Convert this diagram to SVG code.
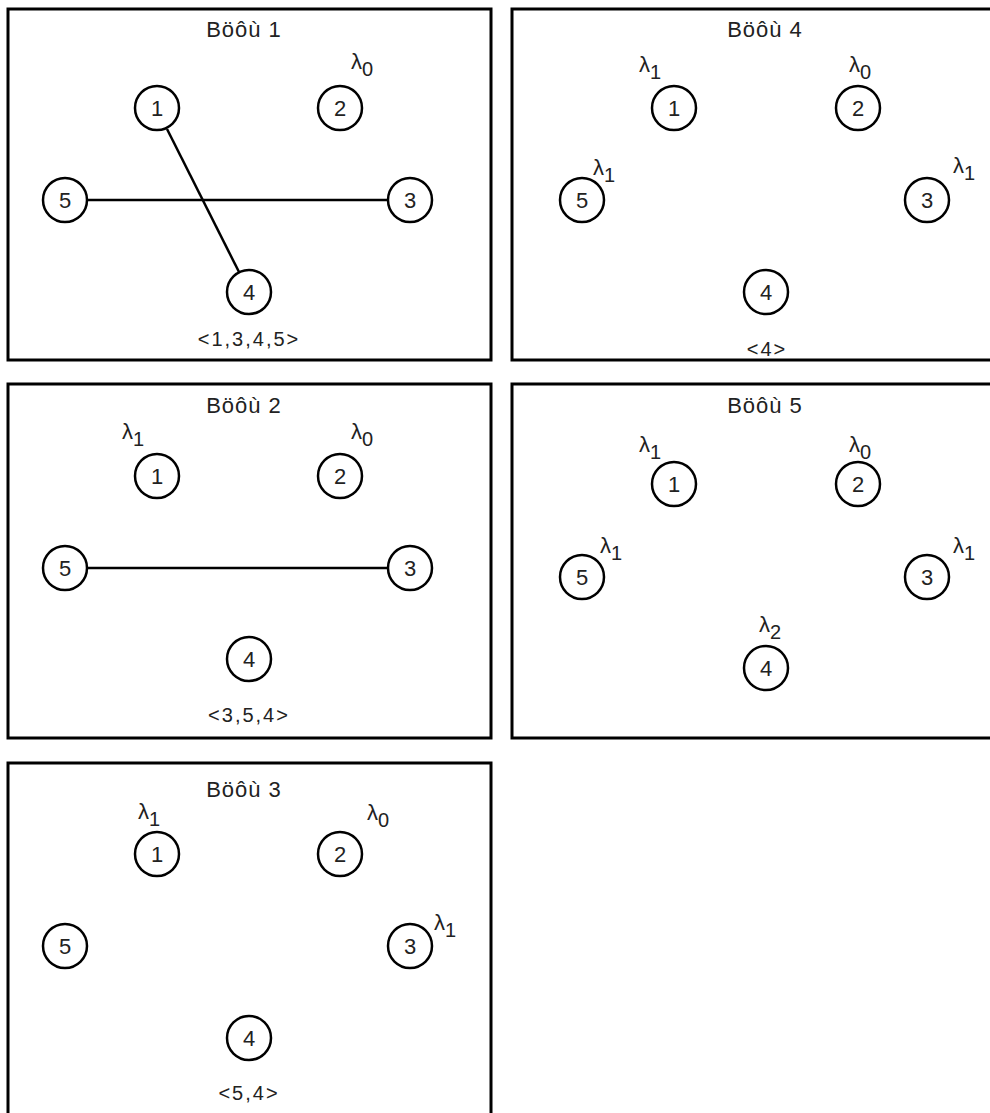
<svg xmlns="http://www.w3.org/2000/svg" width="990" height="1113" viewBox="0 0 990 1113">
<style>
.panel{fill:#fff;stroke:#000;stroke-width:3}
.node circle{fill:#fff;stroke:#000;stroke-width:2.5}
.node text{font-family:"Liberation Sans",Arial,sans-serif;font-size:22px;text-anchor:middle;fill:#222}
.title{font-family:"Liberation Sans",Arial,sans-serif;font-size:22px;text-anchor:middle;letter-spacing:1px;fill:#222}
.seq{font-family:"Liberation Sans",Arial,sans-serif;font-size:20px;text-anchor:middle;letter-spacing:2px;fill:#222}
.lam{font-family:"Liberation Sans",Arial,sans-serif;font-size:22px;fill:#222}
.sub{font-size:20px}
.edge{stroke:#000;stroke-width:2.5;fill:none}
</style>

<!-- Panel 1 -->
<g id="panel1">
<rect class="panel" x="8" y="9" width="483" height="351"/>
<text class="title" x="244" y="37">Böôù 1</text>
<g id="p1-edges">
<line class="edge" x1="167" y1="129" x2="239" y2="272"/>
<line class="edge" x1="87" y1="200" x2="388" y2="200"/>
</g>
<g id="p1-n1" class="node"><circle cx="157" cy="108" r="22"/><text x="157" y="116">1</text></g>
<g id="p1-n2" class="node"><circle cx="340" cy="108" r="22"/><text x="340" y="116">2</text></g>
<g id="p1-n3" class="node"><circle cx="410" cy="200" r="22"/><text x="410" y="208">3</text></g>
<g id="p1-n4" class="node"><circle cx="249" cy="292" r="22"/><text x="249" y="300">4</text></g>
<g id="p1-n5" class="node"><circle cx="65" cy="200" r="22"/><text x="65" y="208">5</text></g>
<text class="lam" x="351" y="69">λ<tspan class="sub" dy="7">0</tspan></text>
<text class="seq" x="249" y="346">&lt;1,3,4,5&gt;</text>
</g>

<!-- Panel 4 -->
<g id="panel4">
<rect class="panel" x="512" y="9" width="490" height="351"/>
<text class="title" x="765" y="37">Böôù 4</text>
<g id="p4-n1" class="node"><circle cx="674" cy="108" r="22"/><text x="674" y="116">1</text></g>
<g id="p4-n2" class="node"><circle cx="858" cy="108" r="22"/><text x="858" y="116">2</text></g>
<g id="p4-n3" class="node"><circle cx="927" cy="200" r="22"/><text x="927" y="208">3</text></g>
<g id="p4-n4" class="node"><circle cx="766" cy="292" r="22"/><text x="766" y="300">4</text></g>
<g id="p4-n5" class="node"><circle cx="582" cy="200" r="22"/><text x="582" y="208">5</text></g>
<text class="lam" x="639" y="72">λ<tspan class="sub" dy="7">1</tspan></text>
<text class="lam" x="849" y="72">λ<tspan class="sub" dy="7">0</tspan></text>
<text class="lam" x="593" y="175">λ<tspan class="sub" dy="7">1</tspan></text>
<text class="lam" x="953" y="173">λ<tspan class="sub" dy="7">1</tspan></text>
<text class="seq" x="767" y="356">&lt;4&gt;</text>
</g>

<!-- Panel 2 -->
<g id="panel2">
<rect class="panel" x="8" y="384" width="483" height="354"/>
<text class="title" x="244" y="413">Böôù 2</text>
<g id="p2-edges">
<line class="edge" x1="87" y1="568" x2="388" y2="568"/>
</g>
<g id="p2-n1" class="node"><circle cx="157" cy="476" r="22"/><text x="157" y="484">1</text></g>
<g id="p2-n2" class="node"><circle cx="340" cy="476" r="22"/><text x="340" y="484">2</text></g>
<g id="p2-n3" class="node"><circle cx="410" cy="568" r="22"/><text x="410" y="576">3</text></g>
<g id="p2-n4" class="node"><circle cx="249" cy="659" r="22"/><text x="249" y="667">4</text></g>
<g id="p2-n5" class="node"><circle cx="65" cy="568" r="22"/><text x="65" y="576">5</text></g>
<text class="lam" x="122" y="439">λ<tspan class="sub" dy="7">1</tspan></text>
<text class="lam" x="351" y="439">λ<tspan class="sub" dy="7">0</tspan></text>
<text class="seq" x="249" y="722">&lt;3,5,4&gt;</text>
</g>

<!-- Panel 5 -->
<g id="panel5">
<rect class="panel" x="512" y="384" width="490" height="354"/>
<text class="title" x="765" y="413">Böôù 5</text>
<g id="p5-n1" class="node"><circle cx="674" cy="484" r="22"/><text x="674" y="492">1</text></g>
<g id="p5-n2" class="node"><circle cx="858" cy="484" r="22"/><text x="858" y="492">2</text></g>
<g id="p5-n3" class="node"><circle cx="927" cy="577" r="22"/><text x="927" y="585">3</text></g>
<g id="p5-n4" class="node"><circle cx="766" cy="668" r="22"/><text x="766" y="676">4</text></g>
<g id="p5-n5" class="node"><circle cx="582" cy="577" r="22"/><text x="582" y="585">5</text></g>
<text class="lam" x="639" y="452">λ<tspan class="sub" dy="7">1</tspan></text>
<text class="lam" x="849" y="452">λ<tspan class="sub" dy="7">0</tspan></text>
<text class="lam" x="600" y="553">λ<tspan class="sub" dy="7">1</tspan></text>
<text class="lam" x="953" y="553">λ<tspan class="sub" dy="7">1</tspan></text>
<text class="lam" x="759" y="632">λ<tspan class="sub" dy="7">2</tspan></text>
</g>

<!-- Panel 3 -->
<g id="panel3">
<rect class="panel" x="8" y="763" width="483" height="360"/>
<text class="title" x="244" y="797">Böôù 3</text>
<g id="p3-n1" class="node"><circle cx="157" cy="854" r="22"/><text x="157" y="862">1</text></g>
<g id="p3-n2" class="node"><circle cx="340" cy="854" r="22"/><text x="340" y="862">2</text></g>
<g id="p3-n3" class="node"><circle cx="410" cy="946" r="22"/><text x="410" y="954">3</text></g>
<g id="p3-n4" class="node"><circle cx="249" cy="1038" r="22"/><text x="249" y="1046">4</text></g>
<g id="p3-n5" class="node"><circle cx="65" cy="946" r="22"/><text x="65" y="954">5</text></g>
<text class="lam" x="138" y="819">λ<tspan class="sub" dy="7">1</tspan></text>
<text class="lam" x="367" y="820">λ<tspan class="sub" dy="7">0</tspan></text>
<text class="lam" x="434" y="930">λ<tspan class="sub" dy="7">1</tspan></text>
<text class="seq" x="249" y="1100">&lt;5,4&gt;</text>
</g>
</svg>
